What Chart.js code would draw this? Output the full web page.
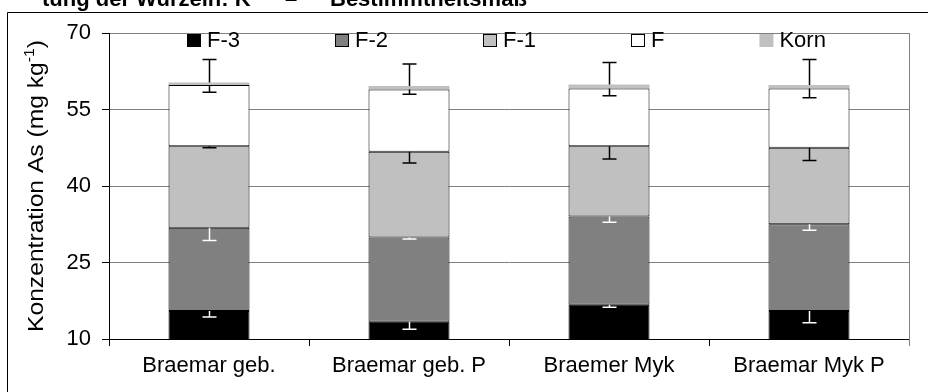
<!DOCTYPE html>
<html><head><meta charset="utf-8">
<script src="https://cdn.jsdelivr.net/npm/chart.js@4/dist/chart.umd.min.js"></script>
<style>
html,body{margin:0;padding:0;background:#fff;overflow:hidden;}
#wrap{position:relative;width:928px;height:392px;overflow:hidden;background:#fff;}
canvas{position:absolute;left:0;top:0;}
.frag{position:absolute;top:-12px;font:bold 22px "Liberation Sans",Arial,sans-serif;line-height:22px;white-space:pre;color:#000;}
</style></head><body>
<div id="wrap">
<canvas id="c" width="928" height="392"></canvas>
<div class="frag" style="left:42px">tung der Wurzeln: K</div>
<div class="frag" style="left:285px">–</div>
<div class="frag" style="left:330px">Bestimmtheitsmaß</div>
</div>
<script>
// ---- data ----
const categories = ["Braemar geb.", "Braemar geb. P", "Braemer Myk", "Braemar Myk P"];
const seriesNames = ["F-3", "F-2", "F-1", "F", "Korn"];
const f3Values = [15.5, 13.4, 16.7, 15.5];
const f2Values = [16.3, 16.5, 17.3, 17.0];
const f1Values = [16.0, 16.8, 13.8, 15.0];
const fValues = [12.0, 12.2, 11.3, 11.6];
const kornValues = [0.5, 0.7, 0.8, 0.7];
const f3ErrMinus = [1.2, 1.5, 0.45, 2.3];
const f2ErrMinus = [2.5, 0.3, 1.1, 1.2];
const f1ErrMinus = [0.3, 2.2, 2.5, 2.5];
const fErrMinus = [1.4, 0.9, 1.4, 1.8];
const kornErrPlus = [4.5, 4.3, 4.3, 5.0];
const yTicks = [10, 25, 40, 55, 70];
const yTitleMain = "Konzentration As (mg kg";
const yTitleSup = "-1";
const yTitleEnd = ")";

const FAM = '"Liberation Sans", Arial, sans-serif';
const seriesValues = [f3Values, f2Values, f1Values, fValues, kornValues];
const seriesColors = ['#000000', '#808080', '#c0c0c0', '#ffffff', '#c0c0c0'];
const seriesBorder = [1, 1, 1, 1, 0];
const errMinus = [f3ErrMinus, f2ErrMinus, f1ErrMinus, fErrMinus, null];
const errPlus = [null, null, null, null, kornErrPlus];
const errColor = ['#ffffff', '#ffffff', '#000000', '#000000', '#000000'];

const errPlugin = {
  id: 'errbars',
  afterDatasetsDraw(chart) {
    const ctx = chart.ctx, ys = chart.scales.y;
    ctx.save();
    ctx.lineWidth = 1.5;
    chart.data.datasets.forEach((ds, i) => {
      const meta = chart.getDatasetMeta(i);
      meta.data.forEach((el, j) => {
        let cum = 0;
        for (let k = 0; k <= i; k++) cum += seriesValues[k][j];
        const x = Math.round(el.x) + 0.5;
        const y0 = ys.getPixelForValue(cum);
        ctx.strokeStyle = errColor[i];
        const draw = (v) => {
          const y1 = ys.getPixelForValue(v);
          ctx.beginPath();
          ctx.moveTo(x, y0); ctx.lineTo(x, y1);
          ctx.moveTo(x - 7, y1); ctx.lineTo(x + 7, y1);
          ctx.stroke();
        };
        if (errMinus[i]) draw(cum - errMinus[i][j]);
        if (errPlus[i]) draw(cum + errPlus[i][j]);
      });
    });
    ctx.restore();
  }
};

const decorPlugin = {
  id: 'decor',
  afterDraw(chart) {
    const ctx = chart.ctx, a = chart.chartArea;
    ctx.save();
    // outer frame
    ctx.strokeStyle = '#000'; ctx.lineWidth = 1;
    ctx.beginPath(); ctx.moveTo(7.5, 400); ctx.lineTo(7.5, 12.5); ctx.lineTo(940, 12.5); ctx.stroke();
    // plot right border
    ctx.strokeStyle = '#808080';
    ctx.beginPath(); ctx.moveTo(Math.round(a.right) + 0.5, a.top); ctx.lineTo(Math.round(a.right) + 0.5, a.bottom + 7); ctx.stroke();
    // legend
    ctx.font = '22px ' + FAM; ctx.textBaseline = 'middle'; ctx.textAlign = 'left';
    let x = a.left + 78; const yc = a.top + 7;
    chart.data.datasets.forEach((ds, i) => {
      ctx.fillStyle = seriesColors[i];
      ctx.fillRect(x, yc - 6, 14, 13);
      if (seriesBorder[i]) { ctx.strokeStyle = '#000'; ctx.lineWidth = 1; ctx.strokeRect(x + 0.5, yc - 5.5, 13, 12); }
      ctx.fillStyle = '#000';
      ctx.fillText(ds.label, x + 20, yc + 1);
      x += 20 + ctx.measureText(ds.label).width + 95;
    });
    // y axis title with superscript
    ctx.translate(35, (a.top + a.bottom) / 2);
    ctx.rotate(-Math.PI / 2);
    ctx.scale(1.12, 1);
    ctx.textBaseline = 'alphabetic';
    ctx.font = '22px ' + FAM; const w1 = ctx.measureText(yTitleMain).width;
    ctx.font = '14px ' + FAM; const w2 = ctx.measureText(yTitleSup).width;
    ctx.font = '22px ' + FAM; const w3 = ctx.measureText(yTitleEnd).width;
    let sx = -(w1 + w2 + w3) / 2;
    ctx.fillStyle = '#000';
    ctx.fillText(yTitleMain, sx, 8); sx += w1;
    ctx.font = '14px ' + FAM; ctx.fillText(yTitleSup, sx, -1); sx += w2;
    ctx.font = '22px ' + FAM; ctx.fillText(yTitleEnd, sx, 8);
    ctx.restore();
  }
};

new Chart(document.getElementById('c'), {
  type: 'bar',
  data: {
    labels: categories,
    datasets: seriesNames.map((n, i) => ({
      label: n,
      data: seriesValues[i],
      backgroundColor: seriesColors[i],
      borderColor: '#000000',
      borderWidth: seriesBorder[i],
      borderSkipped: false,
      categoryPercentage: 1.0,
      barPercentage: 0.405
    }))
  },
  options: {
    responsive: false,
    animation: false,
    devicePixelRatio: 1,
    layout: { padding: { top: 33, right: 19, bottom: 0, left: 0 } },
    plugins: { legend: { display: false }, tooltip: { enabled: false }, title: { display: false } },
    scales: {
      x: {
        stacked: true,
        grid: { display: true, drawOnChartArea: false, drawTicks: true, tickLength: 7, offset: true, color: '#000', tickColor: '#000' },
        border: { display: true, color: '#000', width: 1 },
        ticks: { color: '#000', font: { family: FAM, size: 22 }, padding: 7, maxRotation: 0, autoSkip: false },
        afterFit: s => { s.height = 53; }
      },
      y: {
        stacked: true,
        min: 10, max: 70,
        afterBuildTicks: s => { s.ticks = yTicks.map(v => ({ value: v })); },
        grid: { color: c => (c.tick && c.tick.value === 10) ? '#000' : '#808080', tickColor: '#000', tickLength: 7, drawTicks: true },
        border: { display: true, color: '#000', width: 1 },
        ticks: { color: '#000', font: { family: FAM, size: 22 }, padding: 11 },
        afterFit: s => { s.width = 109; }
      }
    }
  },
  plugins: [errPlugin, decorPlugin]
});
</script>
</body></html>
